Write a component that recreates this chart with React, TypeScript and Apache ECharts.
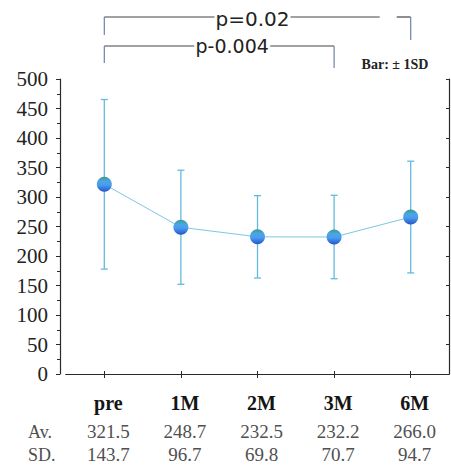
import React, { useEffect, useRef } from "react";
import * as echarts from "echarts";

const categories = ["pre", "1M", "2M", "3M", "6M"];
const averages = [321.5, 248.7, 232.5, 232.2, 266.0];
const sds = [143.7, 96.7, 69.8, 70.7, 94.7];
const avText = ["321.5", "248.7", "232.5", "232.2", "266.0"];
const sdText = ["143.7", "96.7", "69.8", "70.7", "94.7"];
const yTicks = { min: 0, max: 500, interval: 50 };
const brackets = [
  { from: "pre", to: "6M", label: "p=0.02" },
  { from: "pre", to: "3M", label: "p-0.004" },
];

const SERIF = "Liberation Serif";
const SANS = "DejaVu Sans";

export default function App() {
  const ref = useRef<HTMLDivElement>(null);
  useEffect(() => {
    if (!ref.current) return;
    const chart = echarts.init(ref.current, null, { renderer: "svg" });
    const grid = { left: 66, right: 2, top: 79, bottom: 96 };
    const frameColor = "#2a2a2a";
    const barColor = "#62bbdf";

    const markerColor = new echarts.graphic.LinearGradient(0, 0, 0, 1, [
      { offset: 0, color: "#3d9a86" },
      { offset: 0.3, color: "#4aa6e6" },
      { offset: 0.55, color: "#4a9cf0" },
      { offset: 1, color: "#2354c6" },
    ]);

    chart.setOption({
      animation: false,
      backgroundColor: "#ffffff",
      grid,
      xAxis: [
        {
          type: "category",
          data: categories,
          position: "bottom",
          axisLine: { lineStyle: { color: frameColor, width: 1.2 } },
          axisTick: { show: true, alignWithLabel: true, length: 4, lineStyle: { color: frameColor } },
          axisLabel: {
            margin: 11,
            padding: [0, 0, 0, 8],
            formatter: (v: string, i: number) =>
              `{c|${v}}\n{v|${avText[i]}}\n{v|${sdText[i]}}`,
            rich: {
              c: { fontFamily: SERIF, fontWeight: "bold", fontSize: 20, color: "#151515", lineHeight: 35 },
              v: { fontFamily: SERIF, fontSize: 19, color: "#505050", lineHeight: 23 },
            },
          },
          splitLine: { show: false },
        },
        {
          type: "category",
          data: categories,
          position: "top",
          axisLine: { lineStyle: { color: frameColor, width: 1.2 } },
          axisTick: { show: true, alignWithLabel: true, length: 3, lineStyle: { color: frameColor } },
          axisLabel: { show: false },
          splitLine: { show: false },
        },
      ],
      yAxis: [
        {
          type: "value",
          min: yTicks.min,
          max: yTicks.max,
          interval: yTicks.interval,
          offset: 6,
          axisLine: { show: true, lineStyle: { color: frameColor, width: 1.2 } },
          axisTick: { show: true, length: 4, lineStyle: { color: frameColor } },
          minorTick: { show: true, splitNumber: 2, length: 3, lineStyle: { color: frameColor } },
          axisLabel: { margin: 12, fontFamily: SERIF, fontSize: 21, color: "#222222" },
          splitLine: { show: false },
        },
        {
          type: "value",
          min: yTicks.min,
          max: yTicks.max,
          interval: yTicks.interval,
          position: "right",
          axisLine: { show: true, lineStyle: { color: frameColor, width: 1.2 } },
          axisTick: { show: true, inside: true, length: 3, lineStyle: { color: frameColor } },
          axisLabel: { show: false },
          splitLine: { show: false },
        },
      ],
      series: [
        {
          type: "custom",
          name: "sd",
          z: 1,
          data: averages.map((m, i) => [i, m - sds[i], m + sds[i]]),
          renderItem: (params: any, api: any) => {
            const x = api.value(0);
            const lo = api.coord([x, api.value(1)]);
            const hi = api.coord([x, api.value(2)]);
            const cap = 3.5;
            const style = { stroke: barColor, lineWidth: 1.3 };
            return {
              type: "group",
              children: [
                { type: "line", shape: { x1: lo[0], y1: lo[1], x2: hi[0], y2: hi[1] }, style },
                { type: "line", shape: { x1: lo[0] - cap, y1: lo[1], x2: lo[0] + cap, y2: lo[1] }, style },
                { type: "line", shape: { x1: hi[0] - cap, y1: hi[1], x2: hi[0] + cap, y2: hi[1] }, style },
              ],
            };
          },
        },
        {
          type: "line",
          name: "Av",
          z: 3,
          data: averages,
          symbol: "circle",
          symbolSize: 15,
          lineStyle: { color: "#7cc6e4", width: 1 },
          itemStyle: { color: markerColor },
        },
      ],
    });

    const bracketY = [
      { y: 17, yl: 35, yr: 40, textY: 19, dx: -5, fontSize: 20, extraGap: true },
      { y: 46, yl: 63, yr: 68, textY: 46, dx: 13, fontSize: 19, extraGap: false },
    ];
    const graphics: any[] = [];
    brackets.forEach((b, k) => {
      const x1 = chart.convertToPixel({ xAxisIndex: 0 }, b.from) as number;
      const x2 = chart.convertToPixel({ xAxisIndex: 0 }, b.to) as number;
      const g = bracketY[k];
      const tx = (x1 + x2) / 2 + g.dx;
      const half = 38;
      const hStyle = { stroke: "#444444", lineWidth: 1.2 };
      const vStyle = { stroke: "#6e82a8", lineWidth: 1.2 };
      graphics.push({ type: "line", shape: { x1, y1: g.y, x2: tx - half, y2: g.y }, style: hStyle });
      if (g.extraGap) {
        graphics.push({ type: "line", shape: { x1: tx + half, y1: g.y, x2: x2 - 31, y2: g.y }, style: hStyle });
        graphics.push({ type: "line", shape: { x1: x2 - 14, y1: g.y, x2, y2: g.y }, style: hStyle });
      } else {
        graphics.push({ type: "line", shape: { x1: tx + half, y1: g.y, x2, y2: g.y }, style: hStyle });
      }
      graphics.push({ type: "line", shape: { x1, y1: g.y, x2: x1, y2: g.yl }, style: vStyle });
      graphics.push({ type: "line", shape: { x1: x2, y1: g.y, x2, y2: g.yr }, style: vStyle });
      graphics.push({
        type: "text",
        x: tx,
        y: g.textY,
        style: {
          text: b.label,
          fontFamily: SANS,
          fontSize: g.fontSize,
          fill: "#222222",
          align: "center",
          verticalAlign: "middle",
        },
      });
    });
    graphics.push({
      type: "text",
      x: 395,
      y: 64,
      style: {
        text: "Bar: ± 1SD",
        fontFamily: SERIF,
        fontSize: 14,
        fontWeight: "bold",
        fill: "#222222",
        align: "center",
        verticalAlign: "middle",
      },
    });
    graphics.push({
      type: "text",
      x: 28,
      y: 432,
      style: { text: "Av.", fontFamily: SERIF, fontSize: 18, fill: "#505050", verticalAlign: "middle" },
    });
    graphics.push({
      type: "text",
      x: 28,
      y: 455,
      style: { text: "SD.", fontFamily: SERIF, fontSize: 18, fill: "#505050", verticalAlign: "middle" },
    });
    chart.setOption({ graphic: graphics });

    return () => chart.dispose();
  }, []);
  return (
    <div
      ref={ref}
      style={{ position: "fixed", left: 0, top: 0, width: 451, height: 470, background: "#fff" }}
    />
  );
}
